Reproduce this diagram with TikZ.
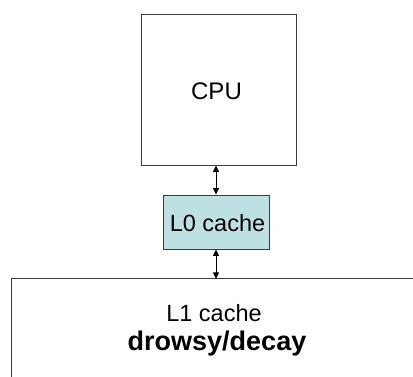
\documentclass[tikz,border=0pt]{standalone}
\usepackage{fontspec}
\setmainfont{Liberation Sans}
\usetikzlibrary{arrows.meta}

\definecolor{lzero}{RGB}{189,224,227}
\definecolor{edge}{RGB}{60,60,60}

\tikzset{
  block/.style={draw=edge,line width=0.9pt,inner sep=0pt,rectangle},
  label/.style={anchor=base,inner sep=0pt,font=\fontsize{#1}{#1}\selectfont},
  link/.style={{Triangle[length=6.5pt,width=6pt]}-{Triangle[length=6.5pt,width=6pt]},line width=1pt}
}

\begin{document}
\begin{tikzpicture}[x=1pt,y=-1pt]
\useasboundingbox (0,0) rectangle (413,376);
% boxes
\node[block,minimum width=155pt,minimum height=151pt] (cpu) at (218.5,89.5) {};
\node[label=24] (cputxt) at (216.5,99.3) {CPU};
\node[block,fill=lzero,minimum width=106pt,minimum height=54pt] (l0) at (216,222) {};
\node[label=23.5] (l0txt) at (217.5,231.7) {L0 cache};
% L1 box runs off the right and bottom edges
\node[inner sep=0pt,minimum width=440pt,minimum height=111pt] (l1) at (232,334.5) {};
\draw[edge,line width=0.9pt] (l1.north east) -- (l1.north west) -- (l1.south west);
\node[label=23.5] (l1txt) at (214,321.7) {L1 cache};
\node[label=27,font=\fontsize{27}{27}\selectfont\bfseries] (l1mode) at (217,350) {drowsy/decay};
% connections
\draw[link] (cpu.south -| l0.north) -- (l0.north);
\draw[link] (l0.south) -- (l0.south |- l1.north);
\end{tikzpicture}
\end{document}
